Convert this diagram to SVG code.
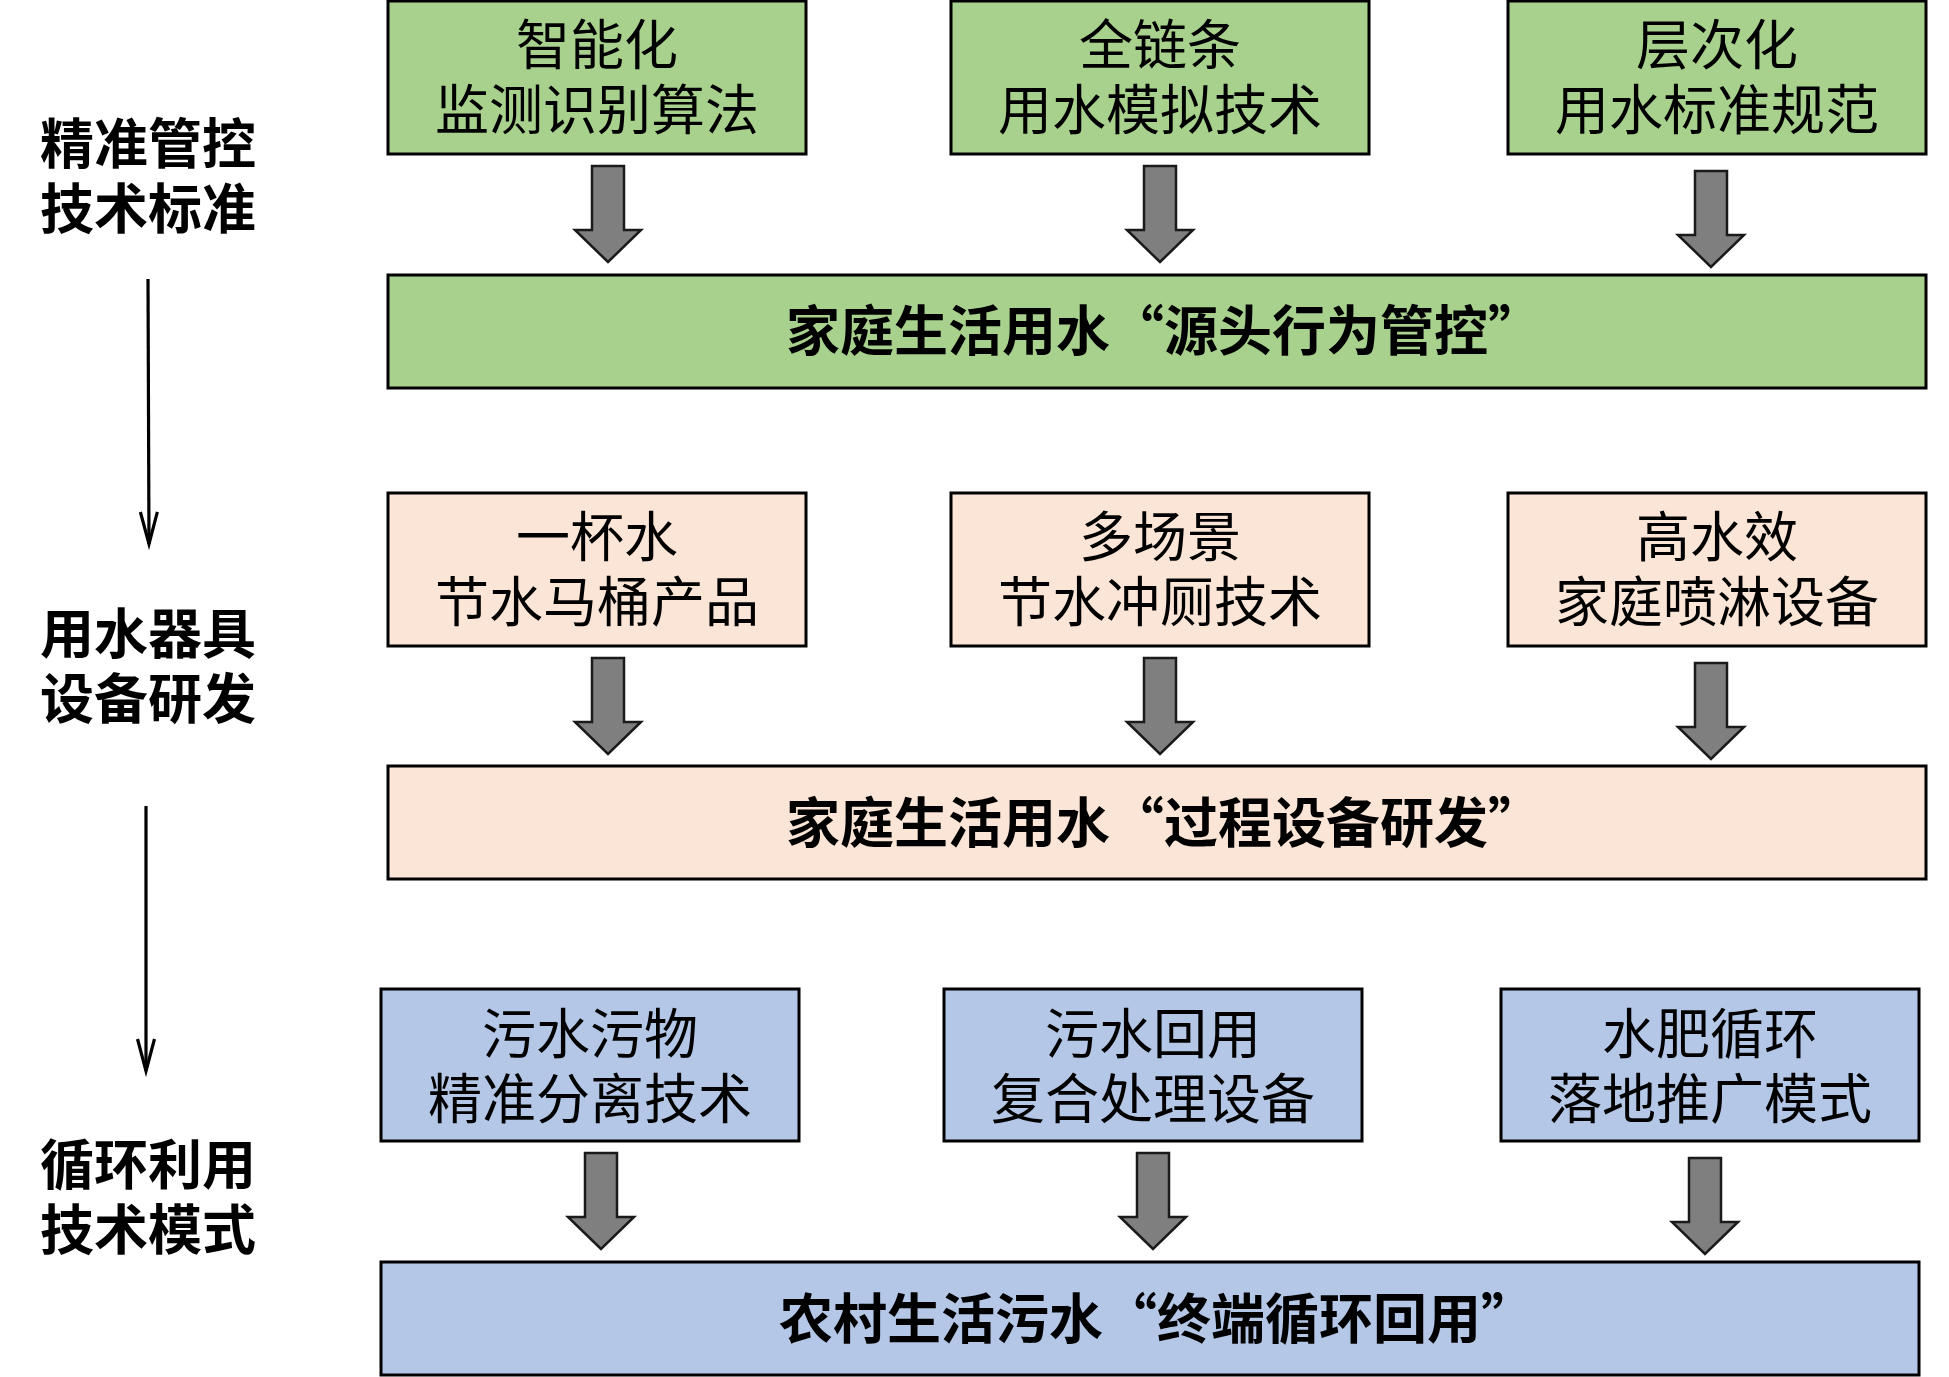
<svg xmlns="http://www.w3.org/2000/svg" xmlns:xlink="http://www.w3.org/1999/xlink" width="1949" height="1377" viewBox="0 0 1949 1377">
<style>
.box{stroke:#000;stroke-width:3}
.g{fill:#A9D18E}
.p{fill:#FBE5D6}
.b{fill:#B4C7E7}
.t{font-family:"Noto Sans CJK SC","Noto Sans",sans-serif;font-size:54px;fill:#000;text-anchor:middle}
.w{font-weight:bold}
.lab{font-family:"Noto Sans CJK SC","Noto Sans",sans-serif;font-size:54px;font-weight:bold;fill:#000;text-anchor:middle}
.blk{fill:#7F7F7F;stroke:#1a1a1a;stroke-width:2.5;stroke-linejoin:miter}
.ln{stroke:#000;stroke-width:3.2;fill:none}
</style>
<defs>
<path id="ba" d="M-16,0 H16 V64 H33 L0,96 L-33,64 H-16 Z"/>
<marker id="va" markerUnits="userSpaceOnUse" markerWidth="40" markerHeight="24" viewBox="-36 -12 40 24" refX="0" refY="0" orient="auto" overflow="visible">
<path d="M-32,-8.5 L0,0 L-32,8.5" fill="none" stroke="#000" stroke-width="3.2"/>
</marker>
</defs>
<rect width="1949" height="1377" fill="#fff"/>

<g id="label1"><text class="lab"><tspan x="148" y="164">精准管控</tspan><tspan x="148" y="229">技术标准</tspan></text></g>
<g id="label2"><text class="lab"><tspan x="148" y="654">用水器具</tspan><tspan x="148" y="719">设备研发</tspan></text></g>
<g id="label3"><text class="lab"><tspan x="148" y="1185">循环利用</tspan><tspan x="148" y="1250">技术模式</tspan></text></g>

<g id="n11"><rect class="box g" x="388" y="1" width="418" height="153"/><text class="t"><tspan x="597" y="65">智能化</tspan><tspan x="597" y="130">监测识别算法</tspan></text></g>
<g id="n12"><rect class="box g" x="951" y="1" width="418" height="153"/><text class="t"><tspan x="1160" y="65">全链条</tspan><tspan x="1160" y="130">用水模拟技术</tspan></text></g>
<g id="n13"><rect class="box g" x="1508" y="1" width="418" height="153"/><text class="t"><tspan x="1717" y="65">层次化</tspan><tspan x="1717" y="130">用水标准规范</tspan></text></g>
<g id="n1w"><rect class="box g" x="388" y="275" width="1538" height="113"/><text class="t w" x="786" y="351" style="text-anchor:start">家庭生活用水“源头行为管控”</text></g>

<g id="n21"><rect class="box p" x="388" y="493" width="418" height="153"/><text class="t"><tspan x="597" y="557">一杯水</tspan><tspan x="597" y="622">节水马桶产品</tspan></text></g>
<g id="n22"><rect class="box p" x="951" y="493" width="418" height="153"/><text class="t"><tspan x="1160" y="557">多场景</tspan><tspan x="1160" y="622">节水冲厕技术</tspan></text></g>
<g id="n23"><rect class="box p" x="1508" y="493" width="418" height="153"/><text class="t"><tspan x="1717" y="557">高水效</tspan><tspan x="1717" y="622">家庭喷淋设备</tspan></text></g>
<g id="n2w"><rect class="box p" x="388" y="766" width="1538" height="113"/><text class="t w" x="786" y="843" style="text-anchor:start">家庭生活用水“过程设备研发”</text></g>

<g id="n31"><rect class="box b" x="381" y="989" width="418" height="152"/><text class="t"><tspan x="590" y="1054">污水污物</tspan><tspan x="590" y="1119">精准分离技术</tspan></text></g>
<g id="n32"><rect class="box b" x="944" y="989" width="418" height="152"/><text class="t"><tspan x="1153" y="1054">污水回用</tspan><tspan x="1153" y="1119">复合处理设备</tspan></text></g>
<g id="n33"><rect class="box b" x="1501" y="989" width="418" height="152"/><text class="t"><tspan x="1710" y="1054">水肥循环</tspan><tspan x="1710" y="1119">落地推广模式</tspan></text></g>
<g id="n3w"><rect class="box b" x="381" y="1262" width="1538" height="113"/><text class="t w" x="779" y="1339" style="text-anchor:start">农村生活污水“终端循环回用”</text></g>

<g id="connectors">
<use xlink:href="#ba" href="#ba" class="blk" x="608" y="166"/>
<use xlink:href="#ba" href="#ba" class="blk" x="1160" y="166"/>
<use xlink:href="#ba" href="#ba" class="blk" x="1711" y="171"/>
<use xlink:href="#ba" href="#ba" class="blk" x="608" y="658"/>
<use xlink:href="#ba" href="#ba" class="blk" x="1160" y="658"/>
<use xlink:href="#ba" href="#ba" class="blk" x="1711" y="663"/>
<use xlink:href="#ba" href="#ba" class="blk" x="601" y="1153"/>
<use xlink:href="#ba" href="#ba" class="blk" x="1153" y="1153"/>
<use xlink:href="#ba" href="#ba" class="blk" x="1705" y="1158"/>
<line class="ln" x1="148" y1="279" x2="149" y2="544" marker-end="url(#va)"/>
<line class="ln" x1="146" y1="806" x2="146" y2="1071" marker-end="url(#va)"/>
</g>
</svg>
